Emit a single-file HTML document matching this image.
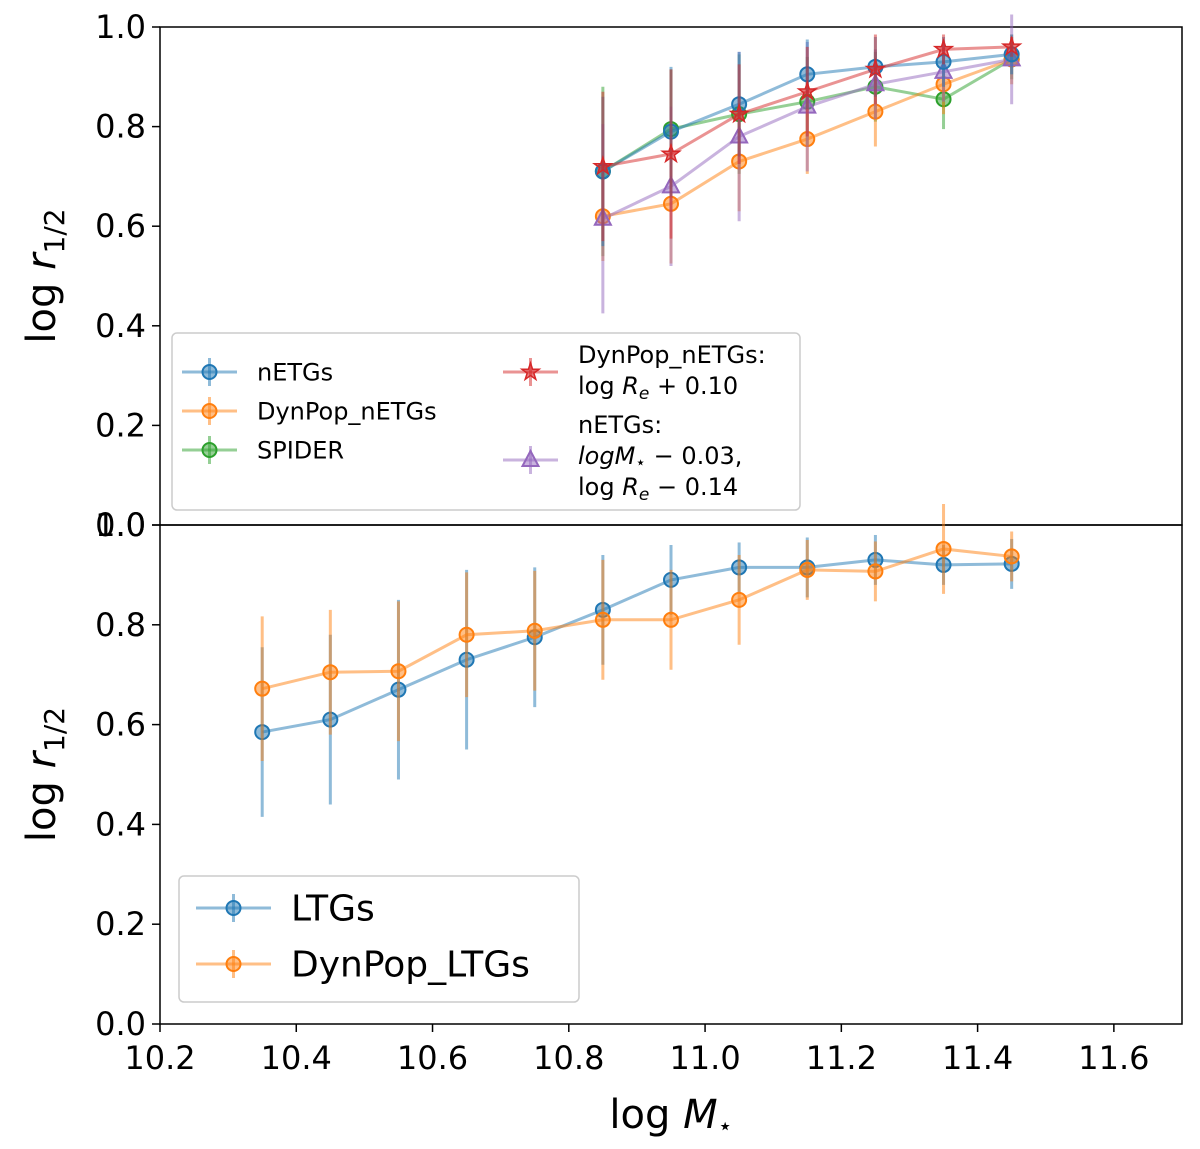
<!DOCTYPE html>
<html><head><meta charset="utf-8"><style>
body{margin:0;background:#fff}
svg{font-family:"DejaVu Sans","Liberation Sans",sans-serif}
</style></head><body>
<svg id="chart" width="1200" height="1144" viewBox="0 0 1200 1144"></svg>
<script>
const xs=[10.35,10.45,10.55,10.65,10.75,10.85,10.95,11.05,11.15,11.25,11.35,11.45];
const topX=[10.85,10.95,11.05,11.15,11.25,11.35,11.45];
const nETGs=[0.71,0.79,0.845,0.905,0.92,0.93,0.945];
const nETGsErr=[0.15,0.13,0.105,0.07,0.06,0.05,0.04];
const dynETGs=[0.62,0.645,0.73,0.775,0.83,0.885,0.935];
const dynETGsErr=[0.09,0.12,0.1,0.07,0.07,0.06,0.05];
const spider=[0.71,0.795,0.825,0.85,0.88,0.855,0.935];
const spiderErr=[0.17,0.12,0.12,0.09,0.07,0.06,0.04];
const redStar=[0.72,0.745,0.825,0.87,0.915,0.955,0.96];
const redErr=[0.15,0.17,0.1,0.09,0.07,0.03,0.02];
const purple=[0.615,0.68,0.78,0.84,0.885,0.91,0.935];
const purpleErr=[0.19,0.16,0.17,0.13,0.07,0.06,0.09];
const ltg=[0.585,0.61,0.67,0.73,0.775,0.83,0.89,0.915,0.915,0.93,0.92,0.922];
const ltgErr=[0.17,0.17,0.18,0.18,0.14,0.11,0.07,0.05,0.06,0.05,0.04,0.05];
const dynLtg=[0.672,0.705,0.707,0.78,0.788,0.81,0.81,0.85,0.91,0.907,0.952,0.937];
const dynLtgErr=[0.145,0.125,0.14,0.125,0.12,0.12,0.1,0.09,0.06,0.06,0.09,0.05];
const xTicks=[10.2,10.4,10.6,10.8,11.0,11.2,11.4,11.6];
const yTicks=[0,0.2,0.4,0.6,0.8,1.0];
const NS='http://www.w3.org/2000/svg';
const svg=document.getElementById('chart');
const L=160,R=1182;
const X=v=>L+(v-10.2)/(11.7-10.2)*(R-L);
const panels=[{t:27,b:525},{t:525,b:1024}];
function Y(p,v){return p.b-v*(p.b-p.t);}
function el(tag,a,parent){const e=document.createElementNS(NS,tag);for(const k in a)e.setAttribute(k,a[k]);(parent||svg).appendChild(e);return e;}
const C={blue:'#1f77b4',orange:'#ff7f0e',green:'#2ca02c',red:'#d62728',purple:'#9467bd'};
function marker(g,shape,x,y,c){
  let m;
  if(shape==='o'){m=el('circle',{cx:x,cy:y,r:7,fill:c,'fill-opacity':0.5,stroke:c,'stroke-width':2},g);}
  else if(shape==='*'){let pts=[];for(let i=0;i<10;i++){const r=i%2?3.5:9,a=-Math.PI/2+i*Math.PI/5;pts.push((x+r*Math.cos(a)).toFixed(1)+','+(y+r*Math.sin(a)).toFixed(1));}
    m=el('polygon',{points:pts.join(' '),fill:c,'fill-opacity':0.6,stroke:c,'stroke-width':1.5},g);}
  else {m=el('polygon',{points:`${x},${y-9} ${x-8},${y+6} ${x+8},${y+6}`,fill:c,'fill-opacity':0.5,stroke:c,'stroke-width':2},g);}
  
  
}
function series(p,xv,yv,ev,c,shape,name){
  const g=el('g',{opacity:1});
  
  
  xv.forEach((x,i)=>{const l=el('line',{x1:X(x),x2:X(x),y1:Y(p,yv[i]-ev[i]),y2:Y(p,yv[i]+ev[i]),stroke:c,'stroke-width':3,'stroke-opacity':0.5},g);
    });
  const pl=el('polyline',{points:xv.map((x,i)=>X(x)+','+Y(p,yv[i])).join(' '),fill:'none',stroke:c,'stroke-width':3,'stroke-opacity':0.5},g);
  
  xv.forEach((x,i)=>marker(g,shape,X(x),Y(p,yv[i]),c));
}
panels.forEach((p,pi)=>{
  const r=el('rect',{x:L,y:p.t,width:R-L,height:p.b-p.t,fill:'none',stroke:'#000','stroke-width':1.5});
  
  yTicks.forEach(v=>{const y=Y(p,v);el('line',{x1:L-8,x2:L,y1:y,y2:y,stroke:'#000','stroke-width':1.5});
    const t=el('text',{x:L-14,y:y+11,'text-anchor':'end','font-size':32});t.textContent=v.toFixed(1);
    });
  const yl=el('text',{transform:`translate(55,${(p.t+p.b)/2}) rotate(-90)`,'text-anchor':'middle','font-size':40});
  yl.innerHTML='log <tspan font-style="italic">r</tspan><tspan font-size="28" dy="9">1/2</tspan>';
  
});
const pb=panels[1];
xTicks.forEach(v=>{const x=X(v);el('line',{x1:x,x2:x,y1:pb.b,y2:pb.b+8,stroke:'#000','stroke-width':1.5});
  const t=el('text',{x:x,y:pb.b+45,'text-anchor':'middle','font-size':32});t.textContent=v.toFixed(1);
  });
const xl=el('text',{x:671,y:1128,'text-anchor':'middle','font-size':40});
xl.innerHTML='log <tspan font-style="italic">M</tspan><tspan font-size="24" dy="6">⋆</tspan>';

const pt=panels[0];
series(pt,topX,spider,spiderErr,C.green,'o','spider-series');
series(pt,topX,dynETGs,dynETGsErr,C.orange,'o','dynpop-netgs-series');
series(pt,topX,purple,purpleErr,C.purple,'^','shifted-netgs-series');
series(pt,topX,nETGs,nETGsErr,C.blue,'o','netgs-series');
series(pt,topX,redStar,redErr,C.red,'*','dynpop-netgs-re-series');
series(pb,xs,ltg,ltgErr,C.blue,'o','ltgs-series');
series(pb,xs,dynLtg,dynLtgErr,C.orange,'o','dynpop-ltgs-series');
function legBox(x,y,w,h,name){const r=el('rect',{x,y,width:w,height:h,rx:5,fill:'#fff','fill-opacity':0.8,stroke:'#ccc','stroke-width':1.5});
  }
function legEntry(x,y,c,shape,label,fs,len){
  const g=el('g',{});
  el('line',{x1:x,x2:x+len,y1:y,y2:y,stroke:c,'stroke-width':3,'stroke-opacity':0.5},g);
  el('line',{x1:x+len/2,x2:x+len/2,y1:y-14,y2:y+14,stroke:c,'stroke-width':3,'stroke-opacity':0.5},g);
  marker(g,shape,x+len/2,y,c);
  const t=el('text',{x:x+len+20,y:y+fs*0.35,'font-size':fs},g);t.innerHTML=label;
}
legBox(172,333,628,177,'top-legend');
legEntry(182,372,C.blue,'o','nETGs',24,55);
legEntry(182,411,C.orange,'o','DynPop_nETGs',24,55);
legEntry(182,450,C.green,'o','SPIDER',24,55);
legEntry(503,372,C.red,'*','',24,55);
legEntry(503,460,C.purple,'^','',24,55);
[['DynPop_nETGs:',363],['log <tspan font-style="italic">R<tspan font-size="17" dy="5">e</tspan></tspan><tspan dy="-5"> + 0.10</tspan>',394],['nETGs:',433],['<tspan font-style="italic">logM</tspan><tspan font-size="17" dy="4">⋆</tspan><tspan dy="-4"> − 0.03,</tspan>',464],[' log <tspan font-style="italic">R<tspan font-size="17" dy="5">e</tspan></tspan><tspan dy="-5"> − 0.14</tspan>',495]].forEach(([s,y])=>{
  const t=el('text',{x:578,y:y,'font-size':24});t.innerHTML=s;});
legBox(179,876,400,126,'bottom-legend');
legEntry(196,908,C.blue,'o','LTGs',36,75);
legEntry(196,964,C.orange,'o','DynPop_LTGs',36,75);
</script>
</body></html>
